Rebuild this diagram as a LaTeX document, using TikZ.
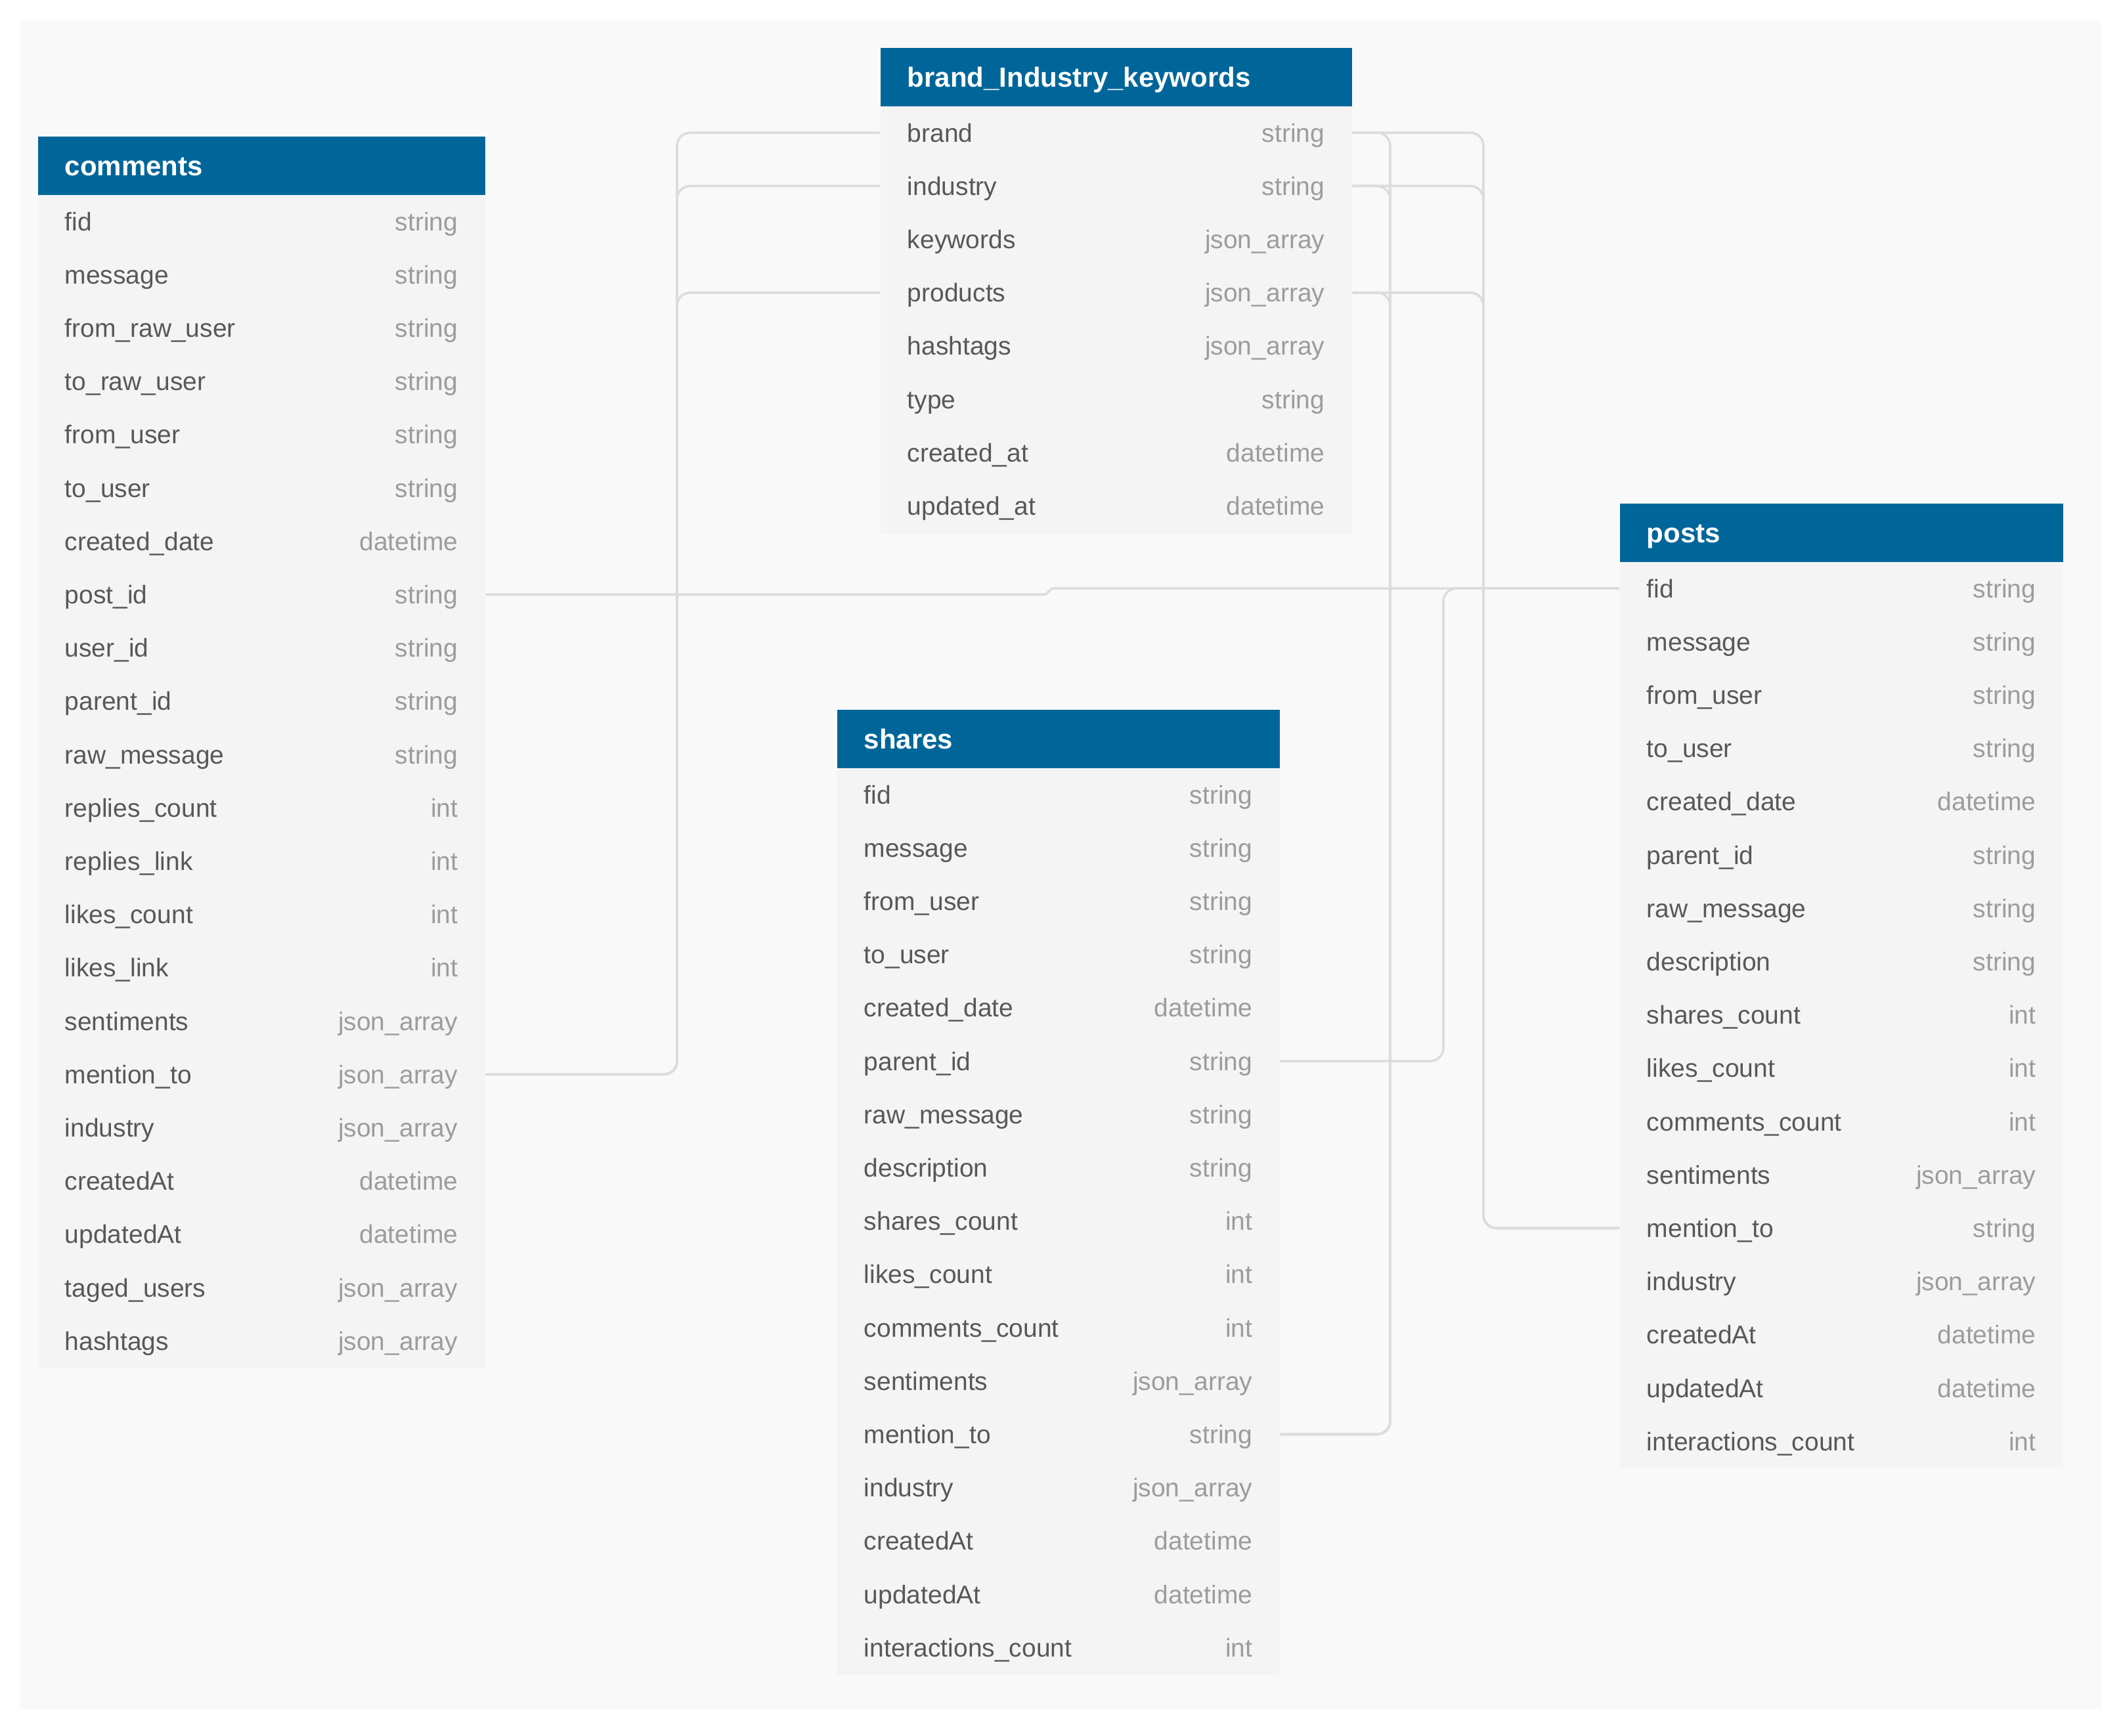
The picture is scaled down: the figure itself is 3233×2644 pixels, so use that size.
\documentclass[tikz,border=0pt]{standalone}
\usepackage{fontspec}
\setmainfont{Liberation Sans}
\definecolor{hdr}{HTML}{00669A}
\definecolor{panel}{HTML}{F9F9F9}
\definecolor{tbody}{HTML}{F4F4F4}
\definecolor{fld}{HTML}{585858}
\definecolor{typ}{HTML}{9C9C9C}
\definecolor{conn}{HTML}{DCDCDC}
\tikzset{
  hdrbox/.style={fill=hdr, inner sep=0, anchor=north west, minimum height=22.4pt},
  bodybox/.style={fill=tbody, inner sep=0, anchor=north west},
  hdrtext/.style={text=white, font=\fontsize{10.5}{12}\selectfont\bfseries, inner sep=0, text height=7.5pt, text depth=0pt, anchor=west},
  fldtext/.style={text=fld, font=\fontsize{9.75}{11}\selectfont, inner sep=0, text height=8pt, text depth=1pt, anchor=west},
  typtext/.style={text=typ, font=\fontsize{9.75}{11}\selectfont, inner sep=0, text height=8pt, text depth=1pt, anchor=east},
  connector/.style={draw=conn, line width=0.9pt, rounded corners=5pt},
}
% #1 name, #2 x left, #3 y top, #4 width (px), #5 rows count, #6 title, #7 rows
\newcommand\erdtable[7]{%
  \node[hdrbox, minimum width=#4*0.25pt] (#1) at (#2,#3) {};
  \node[bodybox, minimum width=#4*0.25pt, minimum height=#5*81.2*0.25pt] (#1-body) at (#2,#3+89.5) {};
  \node[hdrtext] (#1-title) at ([xshift=10.25pt]#1.west) {#6};
  \foreach \f/\t [count=\i] in {#7} {
    \node[fldtext] (#1-\i) at ({#2+41},{#3+89.5+(\i-0.5)*81.2}) {\f};
    \node[typtext] (#1-\i-t) at ({#2+#4-40},{#3+89.5+(\i-0.5)*81.2}) {\t};
  }
}
\begin{document}
\begin{tikzpicture}[x=0.25pt,y=-0.25pt]
  \fill[white] (0,0) rectangle (3233,2644);
  \useasboundingbox (0,0) rectangle (3233,2644);
  \fill[panel] (30,31) rectangle (3200,2603);

  \erdtable{comments}{57}{207}{681}{22}{comments}{fid/string, message/string, from\_raw\_user/string, to\_raw\_user/string, from\_user/string, to\_user/string, created\_date/datetime, post\_id/string, user\_id/string, parent\_id/string, raw\_message/string, replies\_count/int, replies\_link/int, likes\_count/int, likes\_link/int, sentiments/json\_array, mention\_to/json\_array, industry/json\_array, createdAt/datetime, updatedAt/datetime, taged\_users/json\_array, hashtags/json\_array}

  \erdtable{brand}{1340}{72}{718}{8}{brand\_Industry\_keywords}{brand/string, industry/string, keywords/json\_array, products/json\_array, hashtags/json\_array, type/string, created\_at/datetime, updated\_at/datetime}

  \erdtable{posts}{2466}{766}{675}{17}{posts}{fid/string, message/string, from\_user/string, to\_user/string, created\_date/datetime, parent\_id/string, raw\_message/string, description/string, shares\_count/int, likes\_count/int, comments\_count/int, sentiments/json\_array, mention\_to/string, industry/json\_array, createdAt/datetime, updatedAt/datetime, interactions\_count/int}

  \erdtable{shares}{1274}{1080}{674}{17}{shares}{fid/string, message/string, from\_user/string, to\_user/string, created\_date/datetime, parent\_id/string, raw\_message/string, description/string, shares\_count/int, likes\_count/int, comments\_count/int, sentiments/json\_array, mention\_to/string, industry/json\_array, createdAt/datetime, updatedAt/datetime, interactions\_count/int}

  % routing columns
  \coordinate (lx) at (1031,0);
  \coordinate (rx1) at (2117,0);
  \coordinate (rx2) at (2259,0);
  \coordinate (px) at (2198,0);
  \coordinate (jx) at (1597,0);

  % comments.post_id -> posts.fid
  \draw[connector, rounded corners=0pt] (comments-body.east |- comments-8) -- ([xshift=-2pt]jx |- comments-8)
     .. controls (jx |- comments-8) and (jx |- posts-1) .. ([xshift=2pt]jx |- posts-1) -- (posts-body.west |- posts-1);
  % shares.parent_id -> posts.fid
  \draw[connector] (shares-body.east |- shares-6) -| (px |- posts-1) -- (posts-body.west |- posts-1);
  % comments.mention_to -> brand ; brand -> shares.mention_to ; brand -> posts.mention_to
  \foreach \r in {1,2,4} {
    \draw[connector] (comments-body.east |- comments-17) -| (lx |- brand-\r) -- (brand-body.west |- brand-\r);
    \draw[connector] (brand-body.east |- brand-\r) -| (rx1 |- shares-13) -- (shares-body.east |- shares-13);
    \draw[connector] (brand-body.east |- brand-\r) -| (rx2 |- posts-13) -- (posts-body.west |- posts-13);
  }
\end{tikzpicture}
\end{document}
